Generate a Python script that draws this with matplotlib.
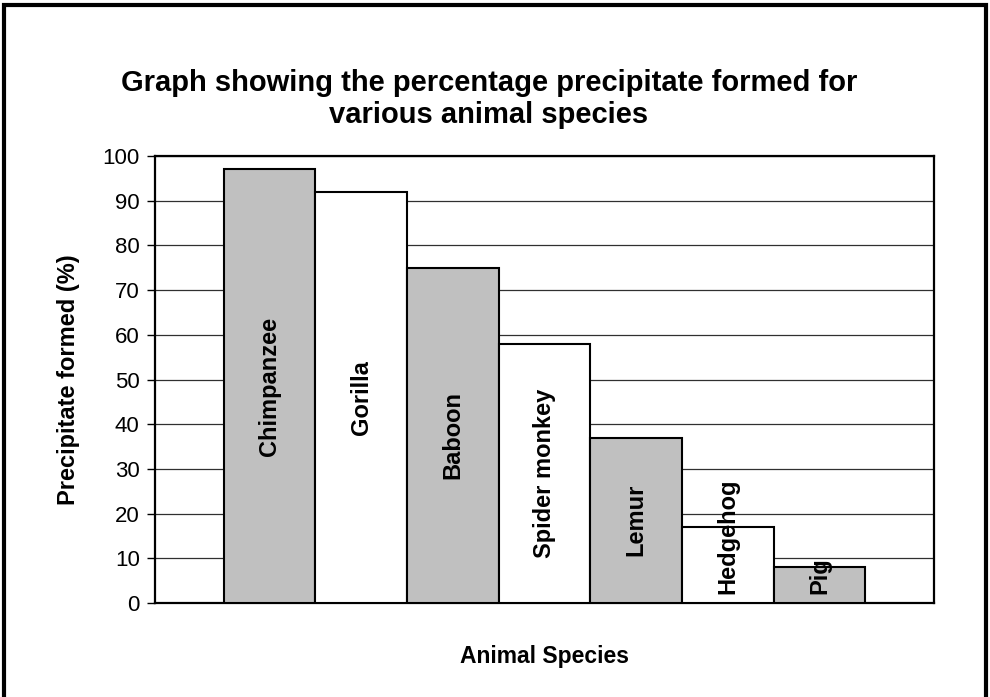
import matplotlib
matplotlib.use('Agg')
import matplotlib.pyplot as plt
from matplotlib.patches import Rectangle

# --- data ---
species = ['Chimpanzee', 'Gorilla', 'Baboon', 'Spider monkey', 'Lemur', 'Hedgehog', 'Pig']
precipitate = [97, 92, 75, 58, 37, 17, 8]
bar_colors = ['#C0C0C0', '#FFFFFF'] * 4
y_ticks = list(range(0, 101, 10))

plt.rcParams['font.family'] = ['Liberation Sans', 'DejaVu Sans']

fig = plt.figure(figsize=(9.9, 6.97), dpi=100)
ax = fig.add_axes([155 / 990, 94 / 697, 779 / 990, 447 / 697])

x = list(range(len(species)))
bars = ax.bar(x, precipitate, width=1.0, color=bar_colors[:len(species)],
              edgecolor='black', linewidth=1.5, zorder=3)

ax.set_xlim(-1.25, len(species) + 0.25)
ax.set_ylim(0, 100)
ax.set_yticks(y_ticks)
ax.tick_params(axis='y', labelsize=16, length=6, width=1, direction='out', pad=5)
ax.set_xticks([])
ax.grid(axis='y', color='#303030', linewidth=0.9, zorder=0)
for s in ax.spines.values():
    s.set_linewidth(1.6)

ax.set_ylabel('Precipitate formed (%)', fontsize=17, fontweight='bold', labelpad=16)
ax.set_xlabel('Animal Species', fontsize=16.5, fontweight='bold', labelpad=30)

# labels inside bars, centred at half height, kept above the axis
labels = []
for xi, v, name in zip(x, precipitate, species):
    t = ax.text(xi, v / 2, name, rotation=90, ha='center', va='center',
                fontsize=17, fontweight='bold', zorder=4)
    labels.append(t)

fig.canvas.draw()
r = fig.canvas.get_renderer()
inv = ax.transData.inverted()
for t in labels:
    bb = t.get_window_extent(r)
    y0 = inv.transform((0, bb.y0))[1]
    if y0 < 2.0:
        t.set_va('bottom')
        t.set_y(2.0)

fig.text(0.494, 0.858, 'Graph showing the percentage precipitate formed for\nvarious animal species',
         ha='center', va='center', fontsize=21, fontweight='bold', linespacing=1.2)

fig.patches.append(Rectangle((0.004, -0.05), 0.992, 1.043, transform=fig.transFigure,
                             fill=False, edgecolor='black', linewidth=3))

fig.savefig('out.png', dpi=100)
